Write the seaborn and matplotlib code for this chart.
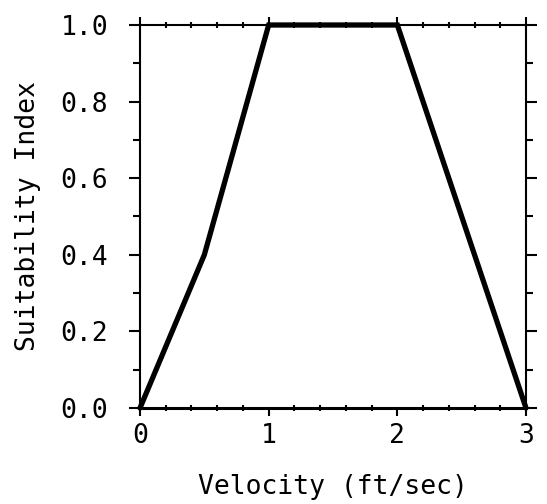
import numpy as np
import pandas as pd
import matplotlib
matplotlib.use("Agg")
import matplotlib.pyplot as plt
from matplotlib.ticker import MultipleLocator, FormatStrFormatter
import seaborn as sns

# Suitability curve breakpoints
velocity = [0.0, 0.5, 1.0, 2.0, 3.0]
suitability = [0.0, 0.4, 1.0, 1.0, 0.0]

x_ticks = [0, 1, 2, 3]
y_ticks = [0.0, 0.2, 0.4, 0.6, 0.8, 1.0]

sns.set_style("ticks")
plt.rcParams["font.family"] = ["DejaVu Sans Mono", "DejaVu Sans"]
plt.rcParams["text.color"] = "black"
plt.rcParams["axes.labelcolor"] = "black"

df = pd.DataFrame({"velocity": velocity, "suitability": suitability})

fig = plt.figure(figsize=(5.47, 5.04), dpi=100)
ax = fig.add_axes([140 / 547, 1 - 408 / 504, 386 / 547, 383 / 504])

sns.lineplot(data=df, x="velocity", y="suitability", ax=ax, color="black",
             linewidth=3.8, sort=False, clip_on=False, solid_joinstyle="miter")

ax.set_xlim(0, 3)
ax.set_ylim(0, 1)
ax.set_xticks(x_ticks)
ax.set_yticks(y_ticks)
ax.xaxis.set_minor_locator(MultipleLocator(0.2))
ax.yaxis.set_minor_locator(MultipleLocator(0.1))
ax.yaxis.set_major_formatter(FormatStrFormatter("%.1f"))

for side in ["top", "right", "left"]:
    ax.spines[side].set_visible(True)
    ax.spines[side].set_linewidth(1.5)
    ax.spines[side].set_color("black")
ax.spines["bottom"].set_linewidth(2.2)
ax.spines["bottom"].set_color("black")

ax.tick_params(which="major", direction="out", length=8, width=1.5,
               top=True, right=True, labelsize=19, colors="black")
ax.tick_params(which="minor", direction="inout", length=4, width=1.5,
               top=True, right=True, colors="black")
ax.tick_params(axis="y", which="major", pad=15)
ax.tick_params(axis="y", which="minor", direction="out", length=5)
ax.tick_params(axis="x", which="major", length=6, pad=5)

ax.set_xlabel("Velocity (ft/sec)", fontsize=19, labelpad=18, color="black")
ax.set_ylabel("Suitability Index", fontsize=19, labelpad=14, color="black")

fig.savefig("out.png", dpi=100, facecolor="white")
